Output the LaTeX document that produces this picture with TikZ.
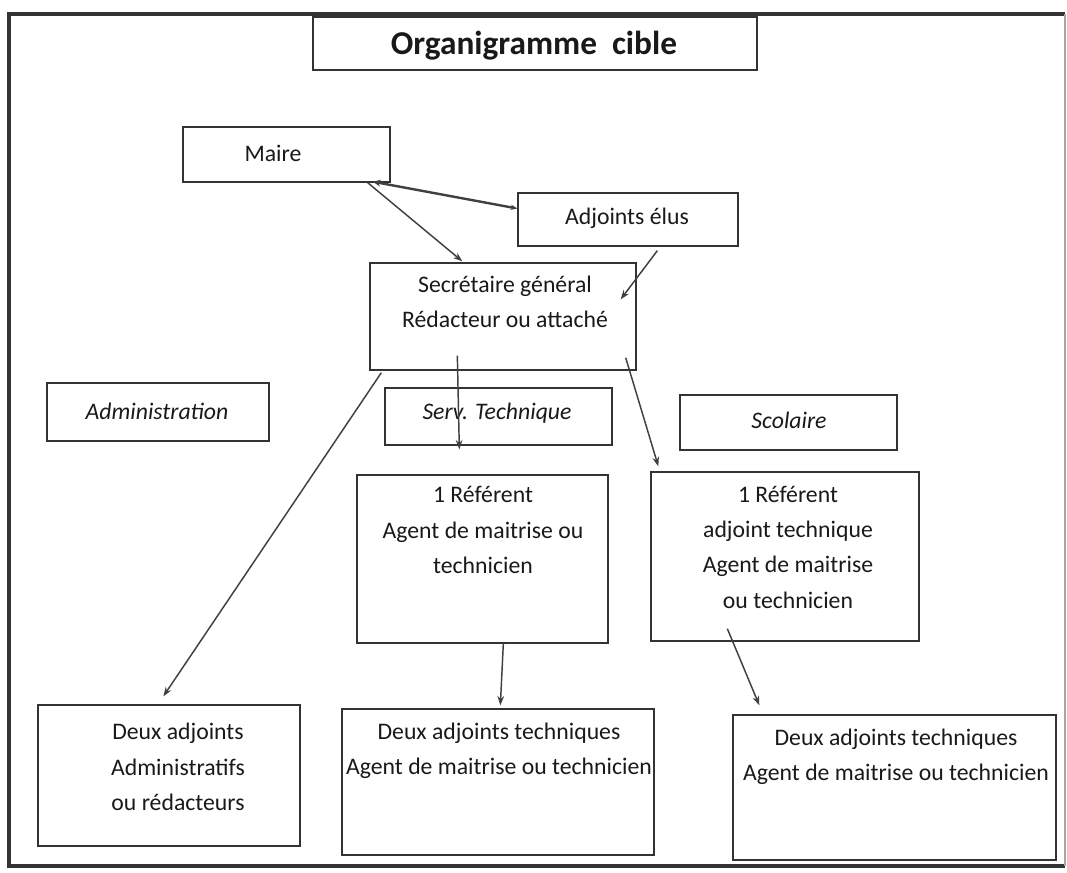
\documentclass[tikz,border=0pt]{standalone}
\usepackage{fontspec}
\setmainfont{Carlito}
\usetikzlibrary{fit,calc,arrows.meta}
\begin{document}
\begin{tikzpicture}[x=0.75pt,y=-0.75pt,
  box/.style={draw=black!80,line width=1pt,inner sep=0pt,fill=none},
  txt/.style={inner sep=0pt,align=center,font=\fontsize{17.8}{26.5}\selectfont,text=black!90},
  itxt/.style={txt,font=\fontsize{17.8}{26.5}\selectfont\itshape},
  conn/.style={draw=black!75,line width=1.1pt,-{Stealth[length=7pt,width=5pt]}},
  frame/.style={draw=black!80,line width=2.4pt}]
\useasboundingbox (0,0) rectangle (1067,872);
\draw[frame] (1065,14) -- (9,14) -- (9,866) -- (1065,866);
\draw[draw=black!35,line width=0.8pt] (1065,14) -- (1065,866);
% boxes
\node[box,fit={(313,17) (757,70)}] (title) {};
\node[box,fit={(183,127) (390,182)}] (maire) {};
\node[box,fit={(518,193) (738,246)}] (adj) {};
\node[box,fit={(370,263) (636,370)}] (sec) {};
\node[box,fit={(47,383) (269,441)}] (admin) {};
\node[box,fit={(385,388) (612,445)}] (tech) {};
\node[box,fit={(680,395) (897,450)}] (scol) {};
\node[box,fit={(357,475) (608,643)}] (ref1) {};
\node[box,fit={(651,472) (919,641)}] (ref2) {};
\node[box,fit={(38,705) (300,846)}] (bot1) {};
\node[box,fit={(342,709) (654,855)}] (bot2) {};
\node[box,fit={(733,715) (1056,860)}] (bot3) {};
% texts
\node[txt,font=\fontsize{25}{30}\selectfont\bfseries] (title-t) at (534,46) {Organigramme\ \ cible};
\node[txt] (maire-t) at (273,153) {Maire};
\node[txt] (adj-t) at (627,218) {Adjoints élus};
\node[txt] (sec-t) at (505,302) {Secrétaire général\\Rédacteur ou attaché};
\node[itxt] (admin-t) at (157,411) {Administration};
\node[itxt] (tech-t) at (497,413) {Serv. Technique};
\node[itxt] (scol-t) at (789,420) {Scolaire};
\node[txt] (ref1-t) at (483,530) {1 Référent\\Agent de maitrise ou\\technicien};
\node[txt] (ref2-t) at (788,547) {1 Référent\\adjoint technique\\Agent de maitrise\\ou technicien};
\node[txt] (bot1-t) at (178,767) {Deux adjoints\\Administratifs\\ou rédacteurs};
\node[txt] (bot2-t) at (499,751) {Deux adjoints techniques\\Agent de maitrise ou technicien};
\node[txt] (bot3-t) at (896,757) {Deux adjoints techniques\\Agent de maitrise ou technicien};
% connectors
\draw[conn] ($(maire.south east)+(-23,0)$) -- ($(sec.north west)+(93,-1)$);
\draw[conn,line width=1.8pt,{Stealth[length=6pt,width=5pt]}-{Stealth[length=5pt,width=4pt]}] ($(maire.south east)+(-18,-1)$) -- ($(adj.west)+(0,-11)$);
\draw[conn] ($(adj.south west)+(140,4)$) -- ($(sec.north east)+(-16,37)$);
\draw[conn] ($(sec.south west)+(88,-15)$) -- ($(ref1.north west)+(103,-25)$);
\draw[conn] ($(sec.south east)+(-11,-13)$) -- ($(ref2.north west)+(8,-5)$);
\draw[conn] ($(sec.south west)+(12,2)$) -- ($(bot1.north west)+(126,-8)$);
\draw[conn] ($(ref1.south west)+(147,0)$) -- ($(bot2.north west)+(159,-3)$);
\draw[conn] ($(ref2.south west)+(77,-13)$) -- ($(bot3.north west)+(27,-9)$);
\end{tikzpicture}
\end{document}
